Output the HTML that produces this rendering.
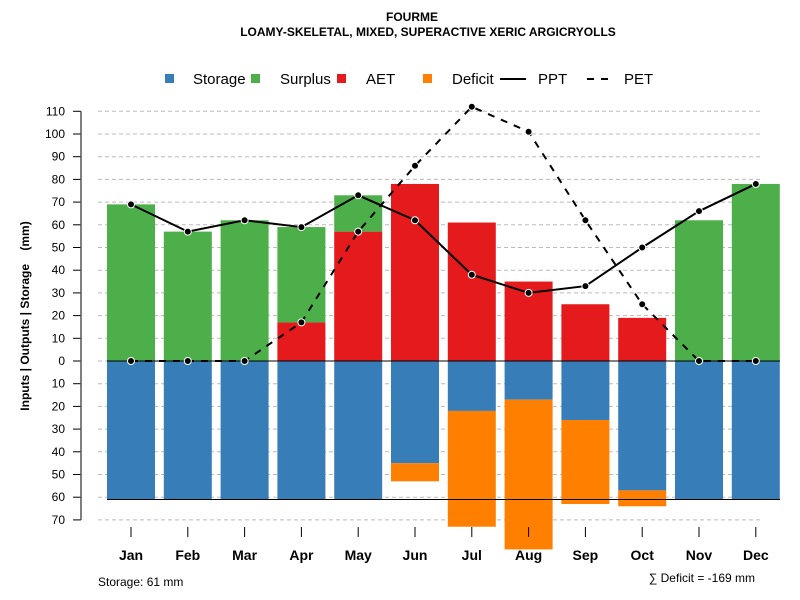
<!DOCTYPE html>
<html><head><meta charset="utf-8"><style>
body{margin:0;background:#fff}
svg{font-family:"Liberation Sans",sans-serif;display:block}
</style></head><body>
<svg id="c" width="800" height="600">
<text x="412" y="21" font-size="12" font-weight="bold" text-anchor="middle">FOURME</text>
<text x="428" y="36" font-size="12" font-weight="bold" text-anchor="middle">LOAMY-SKELETAL, MIXED, SUPERACTIVE XERIC ARGICRYOLLS</text>
<g font-size="15">
<rect x="165" y="74" width="9" height="9" fill="#377eb8"/><text x="193" y="84">Storage</text>
<rect x="251" y="74" width="9" height="9" fill="#4daf4a"/><text x="280" y="84">Surplus</text>
<rect x="337" y="74" width="9" height="9" fill="#e41a1c"/><text x="366" y="84">AET</text>
<rect x="423" y="74" width="9" height="9" fill="#ff7f00"/><text x="452" y="84">Deficit</text>
<line x1="500" y1="79" x2="526" y2="79" stroke="#000" stroke-width="2"/><text x="538" y="84">PPT</text>
<line x1="587" y1="79" x2="608" y2="79" stroke="#000" stroke-width="2" stroke-dasharray="7,7"/><text x="624" y="84">PET</text>
</g>
<text transform="translate(29,316) rotate(-90)" font-size="12" font-weight="bold" text-anchor="middle" style="white-space:pre">Inputs | Outputs | Storage    (mm)</text>
<g id="grid"></g><g id="bars"></g><g id="lines"></g><g id="axes"></g>
<text x="98" y="586" font-size="12">Storage: 61 mm</text>
<text x="755" y="582" font-size="12" text-anchor="end">∑ Deficit = -169 mm</text>
</svg>
<script>
const months=["Jan","Feb","Mar","Apr","May","Jun","Jul","Aug","Sep","Oct","Nov","Dec"];
const ppt=[69,57,62,59,73,62,38,30,33,50,66,78];
const pet=[0,0,0,17,57,86,112,101,62,25,0,0];
const aet=[0,0,0,17,57,78,61,35,25,19,0,0];
const surplus=[69,57,62,42,16,0,0,0,0,0,62,78];
const storage=[61,61,61,61,61,45,22,17,26,57,61,61];
const deficit=[0,0,0,0,0,8,51,66,37,7,0,0];
const yTicks=[110,100,90,80,70,60,50,40,30,20,10,0,-10,-20,-30,-40,-50,-60,-70];
const NS="http://www.w3.org/2000/svg";
const y=v=>361-v*2.27;
const x=i=>131+i*56.8;
function mk(p,t,a){const e=document.createElementNS(NS,t);for(const k in a)e.setAttribute(k,a[k]);document.getElementById(p).appendChild(e);return e;}
yTicks.forEach(t=>{
 let g=mk("grid","line",{x1:98,x2:760,y1:y(t),y2:y(t),stroke:"#bbb","stroke-dasharray":"4,3"});
 
 
 mk("axes","line",{x1:73,x2:81,y1:y(t),y2:y(t),stroke:"#000"});
 let l=mk("axes","text",{x:65,y:y(t)+4,"font-size":12,"text-anchor":"end"});l.textContent=Math.abs(t);
 
 
});
mk("axes","line",{x1:81,x2:81,y1:y(110),y2:y(-70),stroke:"#555","stroke-width":1.5});
const bw=48;
months.forEach((m,i)=>{
 const r=(v0,v1,c,n)=>{let e=mk("bars","rect",{x:x(i)-bw/2,y:y(Math.max(v0,v1)),width:bw,height:Math.abs(y(v0)-y(v1)),fill:c});
  
  };
 if(storage[i])r(0,-storage[i],"#377eb8","storage-bar-"+m.toLowerCase());
 if(deficit[i])r(-storage[i],-storage[i]-deficit[i],"#ff7f00","deficit-bar-"+m.toLowerCase());
 if(aet[i])r(0,aet[i],"#e41a1c","aet-bar-"+m.toLowerCase());
 if(surplus[i])r(aet[i],aet[i]+surplus[i],"#4daf4a","surplus-bar-"+m.toLowerCase());
 mk("axes","line",{x1:x(i),x2:x(i),y1:527,y2:537,stroke:"#000"});
 let t=mk("axes","text",{x:x(i),y:560,"font-size":14,"font-weight":"bold","text-anchor":"middle"});t.textContent=m;
 
 
});
mk("lines","line",{x1:x(0)-bw/2,x2:780,y1:y(0),y2:y(0),stroke:"#000"});
mk("lines","line",{x1:x(0)-bw/2,x2:780,y1:y(-61),y2:y(-61),stroke:"#000"});
[[ppt,"none","ppt-line"],[pet,"7,7","pet-line"]].forEach(([d,da,n])=>{
 let p=mk("lines","polyline",{points:d.map((v,i)=>x(i)+","+y(v)).join(" "),fill:"none",stroke:"#000","stroke-width":2,"stroke-dasharray":da});
 
 
 d.forEach((v,i)=>{let c=mk("lines","circle",{cx:x(i),cy:y(v),r:3.5,fill:"#000",stroke:"#fff","stroke-width":1});
  
  });
});
</script>
</body></html>
